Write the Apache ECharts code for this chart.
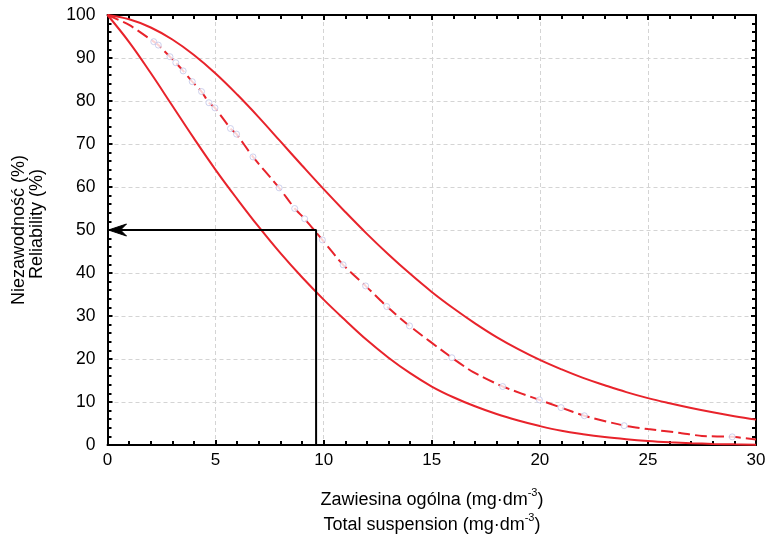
<!DOCTYPE html>
<html>
<head>
<meta charset="utf-8">
<script src="https://cdn.jsdelivr.net/npm/echarts@6/dist/echarts.min.js"></script>
<style>html,body{margin:0;padding:0;background:#fff;}#c{width:771px;height:537px;}</style>
</head>
<body>
<div id="c"></div>
<script>
// ---- data ----
const xValues = [0,1,2,3,4,5,6,7,8,9,10,11,12,13,14,15,16,17,18,19,20,21,22,23,24,25,26,27,28,29,30];
const upperY = [100,99.0,97.1,94.3,90.7,86.4,81.5,76.2,70.6,65.0,59.5,54.2,49.1,44.3,39.8,35.6,31.8,28.3,25.1,22.3,19.8,17.6,15.6,13.9,12.3,10.9,9.7,8.6,7.6,6.7,5.9];
const lowerY = [100,93.7,86.5,78.9,71.3,64.0,57.2,50.7,44.6,39.0,33.8,29.0,24.4,20.3,16.7,13.6,11.1,9.0,7.2,5.7,4.4,3.3,2.5,1.85,1.35,0.95,0.65,0.42,0.26,0.15,0.08];
const empiricalX = [0,1,2.14,2.35,2.89,3.16,3.5,3.92,4.35,4.69,4.97,5.69,5.97,6.73,7.94,8.66,9.12,9.94,10.9,11.94,12.92,13.97,15.93,16.9,18.28,19.98,20.98,22.06,23.9,25,26.5,27.5,28.9,30];
const empiricalY = [100,97.7,93.8,93.0,90.3,88.9,87.0,84.5,82.2,79.6,78.4,73.6,72.3,67.0,59.8,55.0,52.6,47.7,41.9,37.0,32.2,27.7,20.3,17.0,13.6,10.5,8.7,6.8,4.5,3.7,2.8,2.1,1.9,1.3];
const markerX = [2.14,2.35,2.89,3.16,3.5,3.92,4.35,4.69,4.97,5.69,5.97,6.73,7.94,8.66,9.12,9.94,10.9,11.94,12.92,13.97,15.93,18.28,19.98,20.98,22.06,23.9,28.9];
const markerY = [93.8,93.0,90.3,88.9,87.0,84.5,82.2,79.6,78.4,73.6,72.3,67.0,59.8,55.0,52.6,47.7,41.9,37.0,32.2,27.7,20.3,13.6,10.5,8.7,6.8,4.5,1.9];
const readX = 9.65, readY = 50;
const xTicks = {min: 0, max: 30, interval: 5};
const yTicks = {min: 0, max: 100, interval: 10};
const xTitle = ['Zawiesina ogólna (mg·dm', 'Total suspension (mg·dm'];
const yTitle = ['Niezawodność (%)', 'Reliability (%)'];

// ---- chart ----
const RED = '#e8232b';
const FONT = 'Liberation Sans, Arial, sans-serif';
const zip = (a, b) => a.map((v, i) => [v, b[i]]);
const chart = echarts.init(document.getElementById('c'), null, {renderer: 'canvas'});

function axisCommon(showLabel, isX) {
  return {
    type: 'value',
    min: isX ? xTicks.min : yTicks.min,
    max: isX ? xTicks.max : yTicks.max,
    interval: isX ? xTicks.interval : yTicks.interval,
    axisLine: {show: true, onZero: false, lineStyle: {color: '#000', width: 2}},
    axisTick: {show: true, inside: true, length: 5, lineStyle: {color: '#000', width: 2}},
    minorTick: {show: true, splitNumber: 5, length: 4, lineStyle: {color: '#000', width: 2}},
    axisLabel: {show: showLabel, color: '#000', fontSize: isX ? 17 : 17.5, fontFamily: FONT, margin: isX ? 7 : 12},
    splitLine: {show: showLabel, lineStyle: {color: '#d4d4d4', type: [4, 3], width: 1}},
    minorSplitLine: {show: false}
  };
}

const xBottom = Object.assign(axisCommon(true, true), {position: 'bottom'});
const xTop = Object.assign(axisCommon(false, true), {position: 'top'});
const yLeft = Object.assign(axisCommon(true, false), {position: 'left'});
const yRight = Object.assign(axisCommon(false, false), {position: 'right'});

const rich = {
  a: {fontSize: 18, fontFamily: FONT, color: '#000', lineHeight: 26},
  s: {fontSize: 11, fontFamily: FONT, color: '#000', lineHeight: 26, verticalAlign: 'top'}
};

const option = {
  animation: false,
  backgroundColor: '#fff',
  grid: {left: 107.5, right: 15, top: 15, bottom: 92, containLabel: false},
  xAxis: [xBottom, xTop],
  yAxis: [yLeft, yRight],
  series: [
    {type: 'line', name: 'upper', data: zip(xValues, upperY), smooth: 0.4, showSymbol: false, symbol: 'none',
     lineStyle: {color: RED, width: 2}, z: 3},
    {type: 'line', name: 'lower', data: zip(xValues, lowerY), smooth: 0.4, showSymbol: false, symbol: 'none',
     lineStyle: {color: RED, width: 2}, z: 3},
    {type: 'line', name: 'empirical', data: zip(empiricalX, empiricalY), smooth: 0.2, showSymbol: false, symbol: 'none',
     lineStyle: {color: RED, width: 2, type: [12, 5]}, z: 3},
    {type: 'scatter', name: 'points', data: zip(markerX, markerY), symbol: 'circle', symbolSize: 6,
     itemStyle: {color: '#fff', borderColor: '#c2c6e8', borderWidth: 1}, z: 4},
    {type: 'line', name: 'guide', data: [[readX, yTicks.min], [readX, readY], [xTicks.min, readY]], symbol: 'none', showSymbol: false,
     lineStyle: {color: '#000', width: 2}, z: 5},
    {type: 'custom', name: 'arrowhead', data: [[xTicks.min, readY]], z: 6, silent: true,
     renderItem: function (params, api) {
       const p = api.coord([api.value(0), api.value(1)]);
       return {
         type: 'polygon',
         shape: {points: [[p[0] + 1, p[1]], [p[0] + 19, p[1] - 6], [p[0] + 13, p[1]], [p[0] + 19, p[1] + 6]]},
         style: {fill: '#000', stroke: '#000', lineWidth: 1}
       };
     }}
  ],
  graphic: [
    {type: 'text', x: 432, y: 500, silent: true,
     style: {text: '{a|' + xTitle[0] + '}{s|-3}{a|)}', rich: rich, align: 'center', verticalAlign: 'middle'}},
    {type: 'text', x: 432, y: 525, silent: true,
     style: {text: '{a|' + xTitle[1] + '}{s|-3}{a|)}', rich: rich, align: 'center', verticalAlign: 'middle'}},
    {type: 'text', x: 19, y: 230, rotation: Math.PI / 2, silent: true,
     style: {text: yTitle[0], font: '18px ' + FONT, fill: '#000', align: 'center', verticalAlign: 'middle'}},
    {type: 'text', x: 37, y: 224, rotation: Math.PI / 2, silent: true,
     style: {text: yTitle[1], font: '18px ' + FONT, fill: '#000', align: 'center', verticalAlign: 'middle'}}
  ]
};
chart.setOption(option);
</script>
</body>
</html>
